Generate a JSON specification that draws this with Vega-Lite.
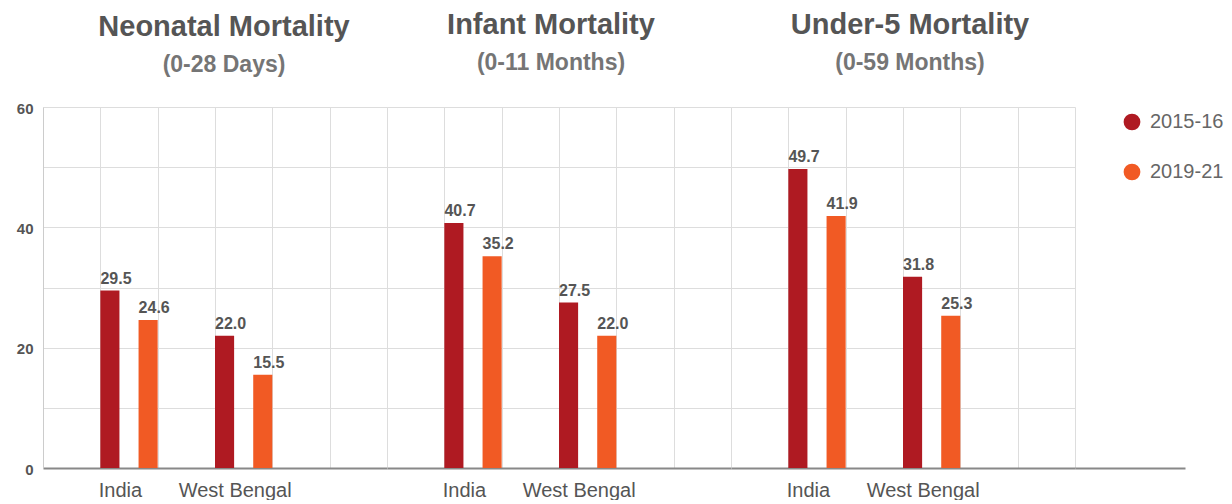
{
  "$schema": "https://vega.github.io/schema/vega-lite/v6.json",
  "padding": {"left": 5, "top": 11, "right": 0, "bottom": 0},
  "config": {
    "font": "Liberation Sans",
    "view": {"stroke": null},
    "concat": {"spacing": 0}
  },
  "data": {
    "values": [
      {"measure": "Neonatal", "region": "India", "year": "2015-16", "value": 29.5},
      {"measure": "Neonatal", "region": "India", "year": "2019-21", "value": 24.6},
      {"measure": "Neonatal", "region": "West Bengal", "year": "2015-16", "value": 22.0},
      {"measure": "Neonatal", "region": "West Bengal", "year": "2019-21", "value": 15.5},
      {"measure": "Infant", "region": "India", "year": "2015-16", "value": 40.7},
      {"measure": "Infant", "region": "India", "year": "2019-21", "value": 35.2},
      {"measure": "Infant", "region": "West Bengal", "year": "2015-16", "value": 27.5},
      {"measure": "Infant", "region": "West Bengal", "year": "2019-21", "value": 22.0},
      {"measure": "Under5", "region": "India", "year": "2015-16", "value": 49.7},
      {"measure": "Under5", "region": "India", "year": "2019-21", "value": 41.9},
      {"measure": "Under5", "region": "West Bengal", "year": "2015-16", "value": 31.8},
      {"measure": "Under5", "region": "West Bengal", "year": "2019-21", "value": 25.3}
    ]
  },
  "spacing": 0,
  "hconcat": [
    {
      "width": 344, "height": 361,
      "title": {"text": "Neonatal Mortality", "subtitle": "(0-28 Days)", "dx": 9, "fontSize": 29, "fontWeight": "bold", "color": "#555555", "subtitleFontSize": 23, "subtitleFontWeight": "bold", "subtitleColor": "#757575", "subtitlePadding": 12, "offset": 24, "anchor": "middle"},
      "transform": [{"filter": "datum.measure == 'Neonatal'"}],
      "layer": [
        {
          "mark": {"type": "bar"},
          "encoding": {
            "x": {"field": "region", "type": "nominal", "scale": {"domain": ["a", "India", "b", "West Bengal", "c", "d"], "paddingInner": 0, "paddingOuter": 0},
              "axis": {"title": null, "labelExpr": "datum.value == 'India' || datum.value == 'West Bengal' ? datum.value : ''", "labelAngle": 0, "labelFontSize": 20, "labelColor": "#555555", "labelPadding": 12, "labelOffset": -9, "labelOverlap": false, "labelBound": false, "ticks": false, "tickBand": "extent", "grid": true, "gridColor": "#dddddd", "domainColor": "#888888", "domainWidth": 2}},
            "xOffset": {"field": "year", "type": "nominal", "scale": {"domain": ["2015-16", "gap", "2019-21"], "paddingInner": 0, "paddingOuter": 0}},
            "y": {"field": "value", "type": "quantitative", "scale": {"domain": [0, 60], "nice": false},
              "axis": {"title": null, "values": [0, 10, 20, 30, 40, 50, 60], "labelExpr": "datum.value % 20 == 0 ? datum.label : ''", "labelFontSize": 15, "labelFontWeight": "bold", "labelColor": "#555555", "labelPadding": 10, "labelOffset": 1, "ticks": false, "domainColor": "#cccccc", "gridColor": "#dddddd", "minExtent": 38, "maxExtent": 38}},
            "color": {"field": "year", "type": "nominal", "scale": {"domain": ["2015-16", "2019-21"], "range": ["#AF1A22", "#F15A24"]},
              "legend": {"title": null, "orient": "none", "legendX": 1074, "legendY": 0, "symbolType": "circle", "symbolSize": 280, "symbolStrokeWidth": 0, "labelFontSize": 20, "labelColor": "#666666", "labelOffset": 8, "rowPadding": 30, "padding": 5}}
          }
        },
        {
          "mark": {"type": "text", "align": "left", "baseline": "alphabetic", "dx": -9.5, "dy": -7, "fontSize": 16, "fontWeight": "bold", "color": "#555555"},
          "encoding": {
            "x": {"field": "region", "type": "nominal"},
            "xOffset": {"field": "year", "type": "nominal"},
            "y": {"field": "value", "type": "quantitative"},
            "text": {"field": "value", "type": "quantitative", "format": ".1f"}
          }
        }
      ]
    },
    {
      "width": 344, "height": 361,
      "title": {"text": "Infant Mortality", "subtitle": "(0-11 Months)", "dx": -8, "fontSize": 29, "fontWeight": "bold", "color": "#555555", "subtitleFontSize": 23, "subtitleFontWeight": "bold", "subtitleColor": "#757575", "subtitlePadding": 12, "offset": 32, "anchor": "middle"},
      "transform": [{"filter": "datum.measure == 'Infant'"}],
      "layer": [
        {
          "mark": {"type": "bar"},
          "encoding": {
            "x": {"field": "region", "type": "nominal", "scale": {"domain": ["a", "India", "b", "West Bengal", "c", "d"], "paddingInner": 0, "paddingOuter": 0},
              "axis": {"title": null, "labelExpr": "datum.value == 'India' || datum.value == 'West Bengal' ? datum.value : ''", "labelAngle": 0, "labelFontSize": 20, "labelColor": "#555555", "labelPadding": 12, "labelOffset": -9, "labelOverlap": false, "labelBound": false, "ticks": false, "tickBand": "extent", "grid": true, "gridColor": "#dddddd", "domainColor": "#888888", "domainWidth": 2}},
            "xOffset": {"field": "year", "type": "nominal", "scale": {"domain": ["2015-16", "gap", "2019-21"], "paddingInner": 0, "paddingOuter": 0}},
            "y": {"field": "value", "type": "quantitative", "scale": {"domain": [0, 60], "nice": false},
              "axis": {"title": null, "values": [0, 10, 20, 30, 40, 50, 60], "labels": false, "ticks": false, "domain": false, "gridColor": "#dddddd", "minExtent": 0, "maxExtent": 0}},
            "color": {"field": "year", "type": "nominal", "scale": {"domain": ["2015-16", "2019-21"], "range": ["#AF1A22", "#F15A24"]}}
          }
        },
        {
          "mark": {"type": "text", "align": "left", "baseline": "alphabetic", "dx": -9.5, "dy": -7, "fontSize": 16, "fontWeight": "bold", "color": "#555555"},
          "encoding": {
            "x": {"field": "region", "type": "nominal"},
            "xOffset": {"field": "year", "type": "nominal"},
            "y": {"field": "value", "type": "quantitative"},
            "text": {"field": "value", "type": "quantitative", "format": ".1f"}
          }
        }
      ]
    },
    {
      "width": 344, "height": 361,
      "title": {"text": "Under-5 Mortality", "subtitle": "(0-59 Months)", "dx": 7, "fontSize": 29, "fontWeight": "bold", "color": "#555555", "subtitleFontSize": 23, "subtitleFontWeight": "bold", "subtitleColor": "#757575", "subtitlePadding": 12, "offset": 32, "anchor": "middle"},
      "transform": [{"filter": "datum.measure == 'Under5'"}],
      "layer": [
        {
          "mark": {"type": "bar"},
          "encoding": {
            "x": {"field": "region", "type": "nominal", "scale": {"domain": ["a", "India", "b", "West Bengal", "c", "d"], "paddingInner": 0, "paddingOuter": 0},
              "axis": {"title": null, "labelExpr": "datum.value == 'India' || datum.value == 'West Bengal' ? datum.value : ''", "labelAngle": 0, "labelFontSize": 20, "labelColor": "#555555", "labelPadding": 12, "labelOffset": -9, "labelOverlap": false, "labelBound": false, "ticks": false, "tickBand": "extent", "grid": true, "gridColor": "#dddddd", "domainColor": "#888888", "domainWidth": 2}},
            "xOffset": {"field": "year", "type": "nominal", "scale": {"domain": ["2015-16", "gap", "2019-21"], "paddingInner": 0, "paddingOuter": 0}},
            "y": {"field": "value", "type": "quantitative", "scale": {"domain": [0, 60], "nice": false},
              "axis": {"title": null, "values": [0, 10, 20, 30, 40, 50, 60], "labels": false, "ticks": false, "domain": false, "gridColor": "#dddddd", "minExtent": 0, "maxExtent": 0}},
            "color": {"field": "year", "type": "nominal", "scale": {"domain": ["2015-16", "2019-21"], "range": ["#AF1A22", "#F15A24"]}}
          }
        },
        {
          "mark": {"type": "text", "align": "left", "baseline": "alphabetic", "dx": -9.5, "dy": -7, "fontSize": 16, "fontWeight": "bold", "color": "#555555"},
          "encoding": {
            "x": {"field": "region", "type": "nominal"},
            "xOffset": {"field": "year", "type": "nominal"},
            "y": {"field": "value", "type": "quantitative"},
            "text": {"field": "value", "type": "quantitative", "format": ".1f"}
          }
        }
      ]
    },
    {
      "width": 110, "height": 361,
      "transform": [{"filter": "datum.measure == 'Under5'"}],
      "mark": {"type": "point", "opacity": 0},
      "encoding": {
        "x": {"field": "value", "type": "quantitative", "axis": {"title": null, "labels": false, "ticks": false, "grid": false, "domainColor": "#888888", "domainWidth": 2}}
      }
    }
  ]
}
